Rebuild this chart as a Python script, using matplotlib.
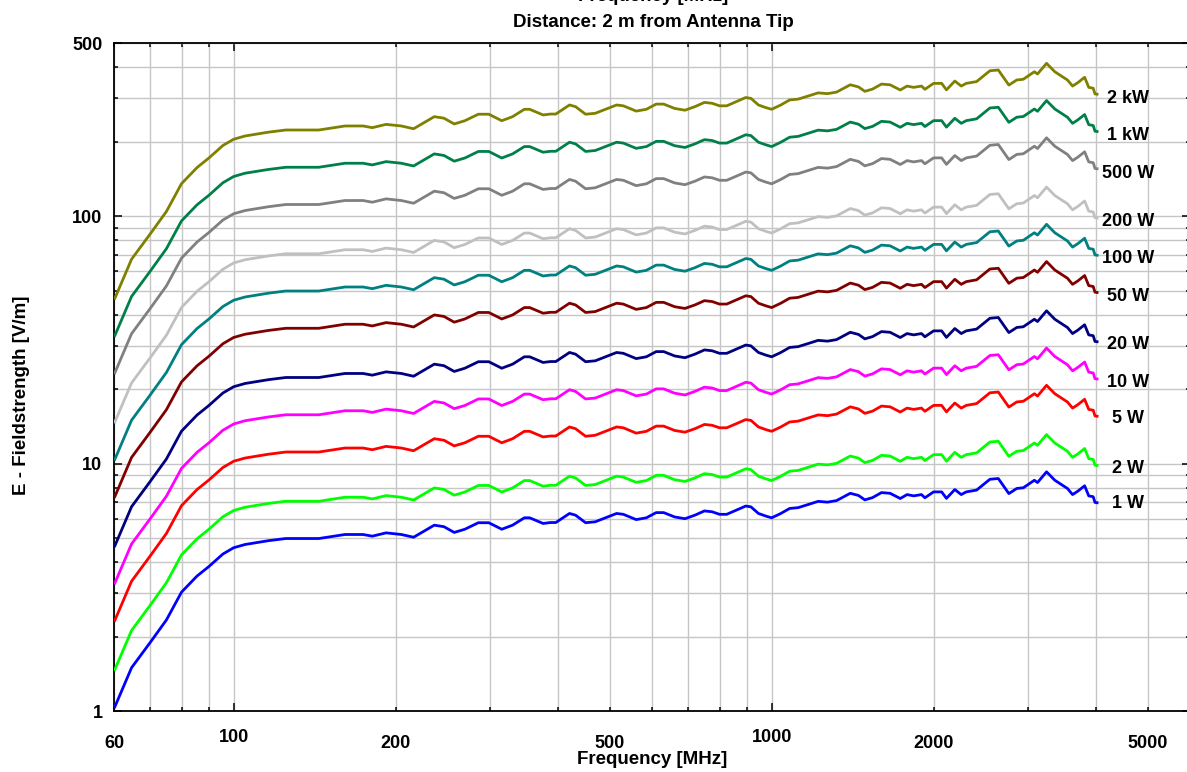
import matplotlib
matplotlib.use('Agg')
import matplotlib.pyplot as plt
from matplotlib.ticker import FixedLocator, FixedFormatter, FuncFormatter, NullFormatter

plt.rcParams['font.family'] = ['Liberation Sans', 'DejaVu Sans']
plt.rcParams['font.weight'] = 'bold'

# ---------------- data ----------------
freq_mhz = [60, 64.6, 70, 75, 80, 85.5, 90, 95.5, 100,
            105, 116, 125, 144, 161, 174, 181, 192, 205, 216,
            236, 246, 257, 269, 285, 298, 315, 330, 347, 355,
            376, 388, 397, 421, 432, 451, 470, 515, 530, 560,
            585, 610, 630, 660, 690, 720, 750, 775, 800, 825,
            860, 895, 915, 945, 975, 1000, 1040, 1080, 1120, 1170,
            1220, 1270, 1320, 1400, 1450, 1490, 1540, 1600, 1660, 1734,
            1785, 1836, 1899, 1927, 2000, 2070, 2113, 2190, 2251, 2300,
            2404, 2545, 2638, 2760, 2855, 2936, 3078, 3120, 3243, 3360,
            3546, 3625, 3707, 3817, 3885, 3960, 3990, 4050]

e_1w = [1.03, 1.50, 1.90, 2.34, 3.03, 3.52, 3.85, 4.32, 4.58,
        4.72, 4.89, 4.99, 4.99, 5.18, 5.18, 5.10, 5.26, 5.18, 5.05,
        5.65, 5.57, 5.28, 5.44, 5.78, 5.78, 5.44, 5.65, 6.05, 6.05,
        5.74, 5.79, 5.79, 6.30, 6.20, 5.78, 5.83, 6.30, 6.25, 5.95,
        6.05, 6.35, 6.35, 6.10, 6.00, 6.20, 6.45, 6.40, 6.25, 6.25,
        6.50, 6.75, 6.70, 6.30, 6.15, 6.05, 6.30, 6.60, 6.65, 6.85,
        7.05, 7.00, 7.10, 7.60, 7.45, 7.15, 7.30, 7.65, 7.60, 7.24,
        7.51, 7.42, 7.51, 7.29, 7.70, 7.70, 7.25, 7.87, 7.51, 7.70,
        7.83, 8.66, 8.72, 7.58, 7.95, 8.00, 8.58, 8.40, 9.28, 8.58,
        7.95, 7.51, 7.75, 8.15, 7.42, 7.36, 6.98, 6.95]

e_2w = [1.457, 2.121, 2.687, 3.309, 4.285, 4.978, 5.445, 6.109, 6.477,
        6.675, 6.916, 7.057, 7.057, 7.326, 7.326, 7.212, 7.439, 7.326, 7.142,
        7.990, 7.877, 7.467, 7.693, 8.174, 8.174, 7.693, 7.990, 8.556, 8.556,
        8.118, 8.188, 8.188, 8.910, 8.768, 8.174, 8.245, 8.910, 8.839, 8.415,
        8.556, 8.980, 8.980, 8.627, 8.485, 8.768, 9.122, 9.051, 8.839, 8.839,
        9.192, 9.546, 9.475, 8.910, 8.697, 8.556, 8.910, 9.334, 9.405, 9.687,
        9.970, 9.899, 10.04, 10.75, 10.54, 10.11, 10.32, 10.82, 10.75, 10.24,
        10.62, 10.49, 10.62, 10.31, 10.89, 10.89, 10.25, 11.13, 10.62, 10.89,
        11.07, 12.25, 12.33, 10.72, 11.24, 11.31, 12.13, 11.88, 13.12, 12.13,
        11.24, 10.62, 10.96, 11.53, 10.49, 10.41, 9.871, 9.829]

e_5w = [2.303, 3.354, 4.249, 5.232, 6.775, 7.871, 8.609, 9.660, 10.24,
        10.55, 10.93, 11.16, 11.16, 11.58, 11.58, 11.40, 11.76, 11.58, 11.29,
        12.63, 12.45, 11.81, 12.16, 12.92, 12.92, 12.16, 12.63, 13.53, 13.53,
        12.84, 12.95, 12.95, 14.09, 13.86, 12.92, 13.04, 14.09, 13.98, 13.30,
        13.53, 14.20, 14.20, 13.64, 13.42, 13.86, 14.42, 14.31, 13.98, 13.98,
        14.53, 15.09, 14.98, 14.09, 13.75, 13.53, 14.09, 14.76, 14.87, 15.32,
        15.76, 15.65, 15.88, 16.99, 16.66, 15.99, 16.32, 17.11, 16.99, 16.19,
        16.79, 16.59, 16.79, 16.30, 17.22, 17.22, 16.21, 17.60, 16.79, 17.22,
        17.51, 19.36, 19.50, 16.95, 17.78, 17.89, 19.19, 18.78, 20.75, 19.19,
        17.78, 16.79, 17.33, 18.22, 16.59, 16.46, 15.61, 15.54]

e_10w = [3.257, 4.743, 6.008, 7.400, 9.582, 11.13, 12.17, 13.66, 14.48,
         14.93, 15.46, 15.78, 15.78, 16.38, 16.38, 16.13, 16.63, 16.38, 15.97,
         17.87, 17.61, 16.70, 17.20, 18.28, 18.28, 17.20, 17.87, 19.13, 19.13,
         18.15, 18.31, 18.31, 19.92, 19.61, 18.28, 18.44, 19.92, 19.76, 18.82,
         19.13, 20.08, 20.08, 19.29, 18.97, 19.61, 20.40, 20.24, 19.76, 19.76,
         20.55, 21.35, 21.19, 19.92, 19.45, 19.13, 19.92, 20.87, 21.03, 21.66,
         22.29, 22.14, 22.45, 24.03, 23.56, 22.61, 23.08, 24.19, 24.03, 22.89,
         23.75, 23.46, 23.75, 23.05, 24.35, 24.35, 22.93, 24.89, 23.75, 24.35,
         24.76, 27.39, 27.58, 23.97, 25.14, 25.30, 27.13, 26.56, 29.35, 27.13,
         25.14, 23.75, 24.51, 25.77, 23.46, 23.27, 22.07, 21.98]

e_20w = [4.606, 6.708, 8.497, 10.46, 13.55, 15.74, 17.22, 19.32, 20.48,
         21.11, 21.87, 22.32, 22.32, 23.17, 23.17, 22.81, 23.52, 23.17, 22.58,
         25.27, 24.91, 23.61, 24.33, 25.85, 25.85, 24.33, 25.27, 27.06, 27.06,
         25.67, 25.89, 25.89, 28.17, 27.73, 25.85, 26.07, 28.17, 27.95, 26.61,
         27.06, 28.40, 28.40, 27.28, 26.83, 27.73, 28.85, 28.62, 27.95, 27.95,
         29.07, 30.19, 29.96, 28.17, 27.50, 27.06, 28.17, 29.52, 29.74, 30.63,
         31.53, 31.30, 31.75, 33.99, 33.32, 31.98, 32.65, 34.21, 33.99, 32.38,
         33.59, 33.18, 33.59, 32.60, 34.44, 34.44, 32.42, 35.20, 33.59, 34.44,
         35.02, 38.73, 39.00, 33.90, 35.55, 35.78, 38.37, 37.57, 41.50, 38.37,
         35.55, 33.59, 34.66, 36.45, 33.18, 32.92, 31.22, 31.08]

e_50w = [7.283, 10.61, 13.44, 16.55, 21.43, 24.89, 27.22, 30.55, 32.39,
         33.38, 34.58, 35.28, 35.28, 36.63, 36.63, 36.06, 37.19, 36.63, 35.71,
         39.95, 39.39, 37.34, 38.47, 40.87, 40.87, 38.47, 39.95, 42.78, 42.78,
         40.59, 40.94, 40.94, 44.55, 43.84, 40.87, 41.22, 44.55, 44.19, 42.07,
         42.78, 44.90, 44.90, 43.13, 42.43, 43.84, 45.61, 45.25, 44.19, 44.19,
         45.96, 47.73, 47.38, 44.55, 43.49, 42.78, 44.55, 46.67, 47.02, 48.44,
         49.85, 49.50, 50.20, 53.74, 52.68, 50.56, 51.62, 54.09, 53.74, 51.19,
         53.10, 52.47, 53.10, 51.55, 54.45, 54.45, 51.27, 55.65, 53.10, 54.45,
         55.37, 61.24, 61.66, 53.60, 56.22, 56.57, 60.67, 59.40, 65.62, 60.67,
         56.22, 53.10, 54.80, 57.63, 52.47, 52.04, 49.36, 49.14]

e_100w = [10.3, 15.0, 19.0, 23.4, 30.3, 35.2, 38.5, 43.2, 45.8,
          47.2, 48.9, 49.9, 49.9, 51.8, 51.8, 51.0, 52.6, 51.8, 50.5,
          56.5, 55.7, 52.8, 54.4, 57.8, 57.8, 54.4, 56.5, 60.5, 60.5,
          57.4, 57.9, 57.9, 63.0, 62.0, 57.8, 58.3, 63.0, 62.5, 59.5,
          60.5, 63.5, 63.5, 61.0, 60.0, 62.0, 64.5, 64.0, 62.5, 62.5,
          65.0, 67.5, 67.0, 63.0, 61.5, 60.5, 63.0, 66.0, 66.5, 68.5,
          70.5, 70.0, 71.0, 76.0, 74.5, 71.5, 73.0, 76.5, 76.0, 72.4,
          75.1, 74.2, 75.1, 72.9, 77.0, 77.0, 72.5, 78.7, 75.1, 77.0,
          78.3, 86.6, 87.2, 75.8, 79.5, 80.0, 85.8, 84.0, 92.8, 85.8,
          79.5, 75.1, 77.5, 81.5, 74.2, 73.6, 69.8, 69.5]

e_200w = [14.57, 21.21, 26.87, 33.09, 42.85, 49.78, 54.45, 61.09, 64.77,
          66.75, 69.16, 70.57, 70.57, 73.26, 73.26, 72.12, 74.39, 73.26, 71.42,
          79.90, 78.77, 74.67, 76.93, 81.74, 81.74, 76.93, 79.90, 85.56, 85.56,
          81.18, 81.88, 81.88, 89.10, 87.68, 81.74, 82.45, 89.10, 88.39, 84.15,
          85.56, 89.80, 89.80, 86.27, 84.85, 87.68, 91.22, 90.51, 88.39, 88.39,
          91.92, 95.46, 94.75, 89.10, 86.97, 85.56, 89.10, 93.34, 94.05, 96.87,
          99.70, 98.99, 100.4, 107.5, 105.4, 101.1, 103.2, 108.2, 107.5, 102.4,
          106.2, 104.9, 106.2, 103.1, 108.9, 108.9, 102.5, 111.3, 106.2, 108.9,
          110.7, 122.5, 123.3, 107.2, 112.4, 113.1, 121.3, 118.8, 131.2, 121.3,
          112.4, 106.2, 109.6, 115.3, 104.9, 104.1, 98.71, 98.29]

e_500w = [23.03, 33.54, 42.49, 52.32, 67.75, 78.71, 86.09, 96.60, 102.4,
          105.5, 109.3, 111.6, 111.6, 115.8, 115.8, 114.0, 117.6, 115.8, 112.9,
          126.3, 124.5, 118.1, 121.6, 129.2, 129.2, 121.6, 126.3, 135.3, 135.3,
          128.4, 129.5, 129.5, 140.9, 138.6, 129.2, 130.4, 140.9, 139.8, 133.0,
          135.3, 142.0, 142.0, 136.4, 134.2, 138.6, 144.2, 143.1, 139.8, 139.8,
          145.3, 150.9, 149.8, 140.9, 137.5, 135.3, 140.9, 147.6, 148.7, 153.2,
          157.6, 156.5, 158.8, 169.9, 166.6, 159.9, 163.2, 171.1, 169.9, 161.9,
          167.9, 165.9, 167.9, 163.0, 172.2, 172.2, 162.1, 176.0, 167.9, 172.2,
          175.1, 193.6, 195.0, 169.5, 177.8, 178.9, 191.9, 187.8, 207.5, 191.9,
          177.8, 167.9, 173.3, 182.2, 165.9, 164.6, 156.1, 155.4]

e_1kw = [32.57, 47.43, 60.08, 74.00, 95.82, 111.3, 121.7, 136.6, 144.8,
         149.3, 154.6, 157.8, 157.8, 163.8, 163.8, 161.3, 166.3, 163.8, 159.7,
         178.7, 176.1, 167.0, 172.0, 182.8, 182.8, 172.0, 178.7, 191.3, 191.3,
         181.5, 183.1, 183.1, 199.2, 196.1, 182.8, 184.4, 199.2, 197.6, 188.2,
         191.3, 200.8, 200.8, 192.9, 189.7, 196.1, 204.0, 202.4, 197.6, 197.6,
         205.5, 213.5, 211.9, 199.2, 194.5, 191.3, 199.2, 208.7, 210.3, 216.6,
         222.9, 221.4, 224.5, 240.3, 235.6, 226.1, 230.8, 241.9, 240.3, 228.9,
         237.5, 234.6, 237.5, 230.5, 243.5, 243.5, 229.3, 248.9, 237.5, 243.5,
         247.6, 273.9, 275.8, 239.7, 251.4, 253.0, 271.3, 265.6, 293.5, 271.3,
         251.4, 237.5, 245.1, 257.7, 234.6, 232.7, 220.7, 219.8]

e_2kw = [46.06, 67.08, 84.97, 104.6, 135.5, 157.4, 172.2, 193.2, 204.8,
         211.1, 218.7, 223.2, 223.2, 231.7, 231.7, 228.1, 235.2, 231.7, 225.8,
         252.7, 249.1, 236.1, 243.3, 258.5, 258.5, 243.3, 252.7, 270.6, 270.6,
         256.7, 258.9, 258.9, 281.7, 277.3, 258.5, 260.7, 281.7, 279.5, 266.1,
         270.6, 284.0, 284.0, 272.8, 268.3, 277.3, 288.5, 286.2, 279.5, 279.5,
         290.7, 301.9, 299.6, 281.7, 275.0, 270.6, 281.7, 295.2, 297.4, 306.3,
         315.3, 313.0, 317.5, 339.9, 333.2, 319.8, 326.5, 342.1, 339.9, 323.8,
         335.9, 331.8, 335.9, 326.0, 344.4, 344.4, 324.2, 352.0, 335.9, 344.4,
         350.2, 387.3, 390.0, 339.0, 355.5, 357.8, 383.7, 375.7, 415.0, 383.7,
         355.5, 335.9, 346.6, 364.5, 331.8, 329.2, 312.2, 310.8]

series_values = [e_2kw, e_1kw, e_500w, e_200w, e_100w, e_50w,
                 e_20w, e_10w, e_5w, e_2w, e_1w]
series_labels = ['2 kW', '1 kW', '500 W', '200 W', '100 W', '50 W',
                 '20 W', '10 W', '5 W', '2 W', '1 W']
series_colors = ['#808000', '#008048', '#808080', '#c0c0c0', '#008080',
                 '#800000', '#000080', '#ff00ff', '#ff0000', '#00ff00',
                 '#0000ff']
label_y = [306, 217, 151, 97.5, 69.1, 48.5, 30.8, 21.8, 15.5, 9.71, 7.01]
label_x = 4600

x_major = [100, 1000]
x_major_labels = ['100', '1000']
x_minor = [60, 70, 80, 90, 200, 300, 400, 500, 600, 700, 800, 900,
           2000, 3000, 4000, 5000, 6000]
x_minor_labelled = {60: '60', 200: '200', 500: '500', 2000: '2000', 5000: '5000'}
y_major = [1, 10, 100, 500]
y_major_labels = ['1', '10', '100', '500']
y_minor = [2, 3, 4, 5, 6, 7, 8, 9, 20, 30, 40, 50, 60, 70, 80, 90, 200, 300, 400]

# ---------------- figure ----------------
W, H = 1187, 772
fig = plt.figure(figsize=(W / 100, H / 100), dpi=100)
ax = fig.add_axes([114.3 / W, 60.7 / H, 1076 / W, 668 / H])
ax.set_xscale('log')
ax.set_yscale('log')
ax.set_xlim(60, 6000)
ax.set_ylim(1, 500)

for vals, col in zip(series_values, series_colors):
    ax.plot(freq_mhz, vals, color=col, lw=2.0, solid_joinstyle='round',
            solid_capstyle='butt', zorder=3)

for lab, ly in zip(series_labels, label_y):
    ax.text(label_x, ly, lab, ha='center', va='center_baseline',
            fontsize=13, fontweight='bold', color='black', zorder=4)

ax.xaxis.set_major_locator(FixedLocator(x_major))
ax.xaxis.set_major_formatter(FixedFormatter(x_major_labels))
ax.xaxis.set_minor_locator(FixedLocator(x_minor))
ax.xaxis.set_minor_formatter(
    FuncFormatter(lambda v, p: x_minor_labelled.get(int(round(v)), '')))
ax.yaxis.set_major_locator(FixedLocator(y_major))
ax.yaxis.set_major_formatter(FixedFormatter(y_major_labels))
ax.yaxis.set_minor_locator(FixedLocator(y_minor))
ax.yaxis.set_minor_formatter(NullFormatter())

ax.grid(True, which='both', color='#c6c6c6', lw=1.0, zorder=0)
ax.set_axisbelow(True)

ax.tick_params(which='both', direction='in', top=True, right=True,
               width=1.1, colors='black', labelsize=13)
ax.tick_params(which='major', length=6)
ax.tick_params(which='minor', length=2.6)
ax.tick_params(axis='x', which='major', pad=13)
ax.tick_params(axis='x', which='minor', pad=17)
ax.tick_params(axis='y', which='both', pad=8.5)
for lab in ax.get_xticklabels(which='both') + ax.get_yticklabels(which='both'):
    lab.set_fontweight('bold')

for sp in ax.spines.values():
    sp.set_linewidth(1.3)
    sp.set_color('black')

fig.text(653 / W, 1 - 1 / H, 'Frequency [MHz]', ha='center', va='baseline',
         fontsize=13.5, fontweight='bold')
fig.text(653 / W, 1 - 26.7 / H, 'Distance: 2 m from Antenna Tip',
         ha='center', va='baseline', fontsize=13.5, fontweight='bold')
fig.text(652 / W, 8 / H, 'Frequency [MHz]', ha='center', va='baseline',
         fontsize=13.5, fontweight='bold')
fig.text(22 / W, 377 / H, 'E - Fieldstrength [V/m]', rotation=90,
         ha='center', va='center', fontsize=13.5, fontweight='bold')

fig.savefig('out.png', dpi=100)
